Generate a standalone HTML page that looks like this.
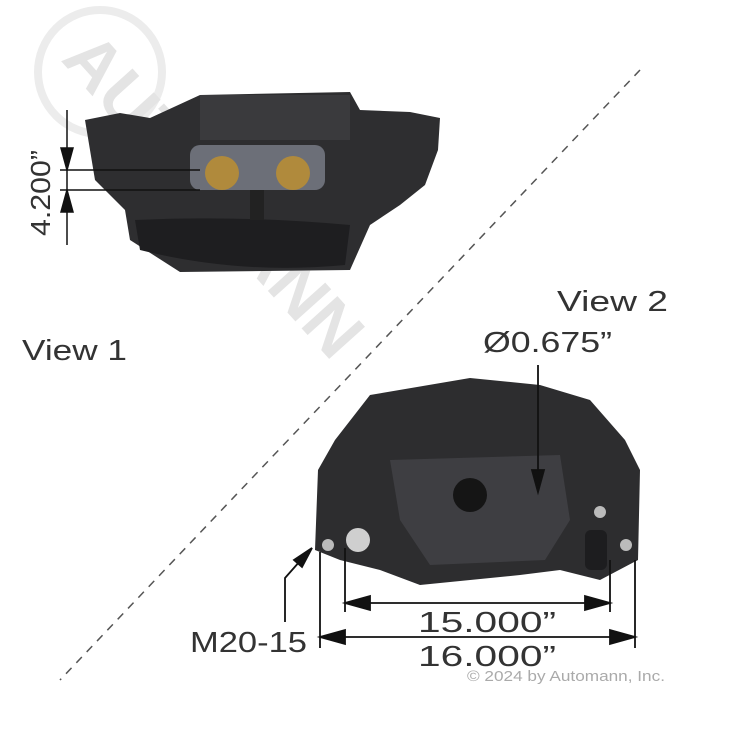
<!DOCTYPE html>
<html><head><meta charset="utf-8"><style>
html,body{margin:0;padding:0;background:#fff;}
svg{display:block;font-family:"Liberation Sans",sans-serif;}
</style></head><body>
<svg width="740" height="740" viewBox="0 0 740 740" xmlns="http://www.w3.org/2000/svg">
<rect width="740" height="740" fill="#fff"/>
<!-- watermark -->
<circle cx="100" cy="72" r="62" fill="none" stroke="#ececec" stroke-width="8"/>
<g fill="#e4e4e4" font-weight="bold" font-size="70">
<text transform="translate(60,60) rotate(48)">AUTOMANN</text>
</g>
<!-- dashed diagonal -->
<line x1="640" y1="70" x2="60" y2="680" stroke="#555" stroke-width="1.5" stroke-dasharray="8,7"/>
<!-- top caliper -->
<g>
<path d="M200 95 L350 92 L360 110 L410 112 L440 118 L438 150 L425 185 L400 205 L370 225 L350 270 L180 272 L130 240 L125 210 L95 180 L85 120 L120 113 L150 118 Z" fill="#2e2e30"/>
<path d="M135 220 Q240 215 350 225 L345 265 Q240 275 140 250 Z" fill="#1e1e20"/>
<rect x="200" y="95" width="150" height="45" fill="#3a3a3d"/>
<rect x="190" y="145" width="135" height="45" rx="10" fill="#6c6f78"/>
<circle cx="222" cy="173" r="17" fill="#b08a3c"/>
<circle cx="293" cy="173" r="17" fill="#b08a3c"/>
<rect x="250" y="190" width="14" height="30" fill="#222"/>
</g>
<!-- bottom caliper -->
<g>
<path d="M370 395 L470 378 L540 385 L590 400 L625 440 L640 470 L638 560 L600 580 L560 570 L520 575 L420 585 L380 570 L340 560 L315 550 L318 470 L335 440 Z" fill="#2d2d2f"/>
<path d="M390 460 L560 455 L570 520 L545 560 L430 565 L400 520 Z" fill="#3e3e42"/>
<circle cx="470" cy="495" r="17" fill="#151515"/>
<circle cx="358" cy="540" r="12" fill="#cfcfcf"/>
<circle cx="328" cy="545" r="6" fill="#bbb"/>
<circle cx="600" cy="512" r="6" fill="#bbb"/>
<circle cx="626" cy="545" r="6" fill="#bbb"/>
<rect x="585" y="530" width="22" height="40" rx="6" fill="#1d1d1f"/>
</g>
<!-- 4.200 dimension -->
<g stroke="#111" stroke-width="1.5" fill="#111">
<line x1="60" y1="170" x2="200" y2="170"/>
<line x1="60" y1="190" x2="200" y2="190"/>
<line x1="67" y1="110" x2="67" y2="245"/>
<polygon points="67,170 61,148 73,148"/>
<polygon points="67,190 61,212 73,212"/>
</g>
<text transform="translate(50,236) rotate(-90)" font-size="28" fill="#333" textLength="86" lengthAdjust="spacingAndGlyphs">4.200”</text>
<!-- 15.000 / 16.000 -->
<g stroke="#111" stroke-width="1.8" fill="#111">
<line x1="345" y1="548" x2="345" y2="612"/>
<line x1="610" y1="560" x2="610" y2="612"/>
<line x1="320" y1="552" x2="320" y2="648"/>
<line x1="635" y1="560" x2="635" y2="648"/>
<line x1="345" y1="603" x2="610" y2="603"/>
<line x1="320" y1="637" x2="635" y2="637"/>
<polygon points="345,603 370,596 370,610"/>
<polygon points="610,603 585,596 585,610"/>
<polygon points="320,637 345,630 345,644"/>
<polygon points="635,637 610,630 610,644"/>
<polyline points="285,622 285,578 308,552" fill="none"/>
<polygon points="312,548 294,560 302,567"/>
<line x1="538" y1="365" x2="538" y2="470"/>
<polygon points="538,492 532,470 544,470"/>
</g>
<g font-size="29" fill="#333" lengthAdjust="spacingAndGlyphs">
<text x="22" y="360" textLength="105" lengthAdjust="spacingAndGlyphs">View 1</text>
<text x="557" y="311" textLength="111" lengthAdjust="spacingAndGlyphs">View 2</text>
<text x="483" y="352" textLength="129" lengthAdjust="spacingAndGlyphs">Ø0.675”</text>
<text x="418" y="632" textLength="138" lengthAdjust="spacingAndGlyphs">15.000”</text>
<text x="418" y="666" textLength="138" lengthAdjust="spacingAndGlyphs">16.000”</text>
<text x="190" y="652" textLength="117" lengthAdjust="spacingAndGlyphs">M20-15</text>
</g>
<text x="467" y="681" font-size="15" fill="#aaa" textLength="198" lengthAdjust="spacingAndGlyphs">© 2024 by Automann, Inc.</text>
</svg>
</body></html>
